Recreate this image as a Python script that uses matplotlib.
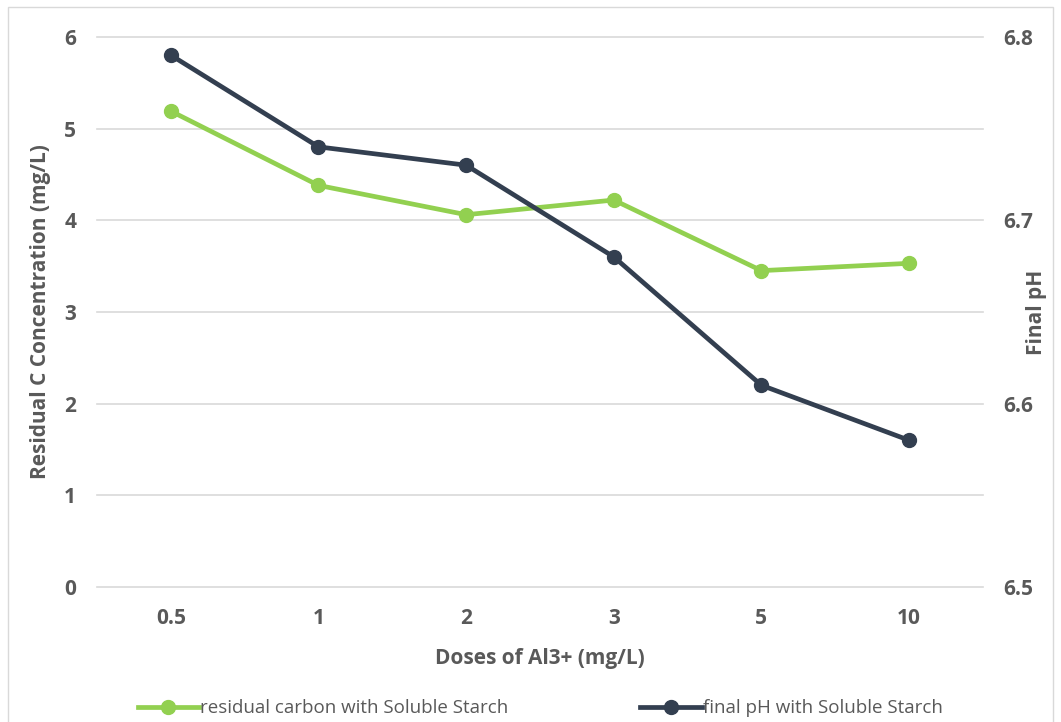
import matplotlib
matplotlib.use("Agg")
import matplotlib.pyplot as plt
from matplotlib.patches import Rectangle

categories = ["0.5", "1", "2", "3", "5", "10"]
residual_carbon = [5.19, 4.38, 4.06, 4.22, 3.45, 3.53]
final_ph = [6.79, 6.74, 6.73, 6.68, 6.61, 6.58]

green = "#92D050"
dark = "#333F50"
txt = "#595959"
grid = "#D9D9D9"

plt.rcParams['font.family'] = ['Open Sans', 'DejaVu Sans']

fig = plt.figure(figsize=(10.61, 7.22), dpi=100)
ax = fig.add_axes([0.0914, 0.187, 0.835, 0.762])
ax2 = ax.twinx()

x = list(range(len(categories)))
l1, = ax.plot(x, residual_carbon, color=green, lw=3.4, marker='o', ms=10,
              label="residual carbon with Soluble Starch", zorder=3)
l2, = ax2.plot(x, final_ph, color=dark, lw=3.4, marker='o', ms=10,
               label="final pH with Soluble Starch", zorder=3)

ax.set_xlim(-0.5, len(categories) - 0.5)
ax.set_ylim(0, 6)
ax2.set_ylim(6.5, 6.8)
ax.set_yticks(range(0, 7))
ax2.set_yticks([6.5, 6.6, 6.7, 6.8])
ax2.set_yticklabels(["6.5", "6.6", "6.7", "6.8"])
ax.set_xticks(x)
ax.set_xticklabels(categories)

ax.grid(axis='y', color=grid, lw=1.2)
ax.set_axisbelow(True)
for gl in ax.get_ygridlines():
    gl.set_clip_on(False)
for a in (ax, ax2):
    for s in a.spines.values():
        s.set_visible(False)
    a.tick_params(length=0, colors=txt, labelsize=15)
    for lab in a.get_xticklabels() + a.get_yticklabels():
        lab.set_fontweight('bold')
ax.tick_params(axis='y', pad=15)
ax2.tick_params(axis='y', pad=15)
ax.tick_params(axis='x', pad=15)

ax.set_xlabel("Doses of Al3+ (mg/L)", fontsize=15, fontweight='bold', color=txt, labelpad=14)
ax.set_ylabel("Residual C Concentration (mg/L)", fontsize=15, fontweight='bold', color=txt)
ax.yaxis.set_label_coords(-0.052, 0.5)
ax2.set_ylabel("Final pH", fontsize=15, fontweight='bold', color=txt)
ax2.yaxis.set_label_coords(1.049, 0.5)

leg = fig.legend(handles=[l1, l2], loc='center', bbox_to_anchor=(0.509, 0.019), ncol=2,
                 frameon=False, fontsize=13.5, handlelength=3.3, handletextpad=0.05,
                 columnspacing=7.0, labelcolor=txt)

fig.patches.append(Rectangle((0.008, -0.01), 0.984, 1.0, transform=fig.transFigure,
                             fill=False, edgecolor=grid, lw=1))

fig.savefig("out.png", dpi=100)
